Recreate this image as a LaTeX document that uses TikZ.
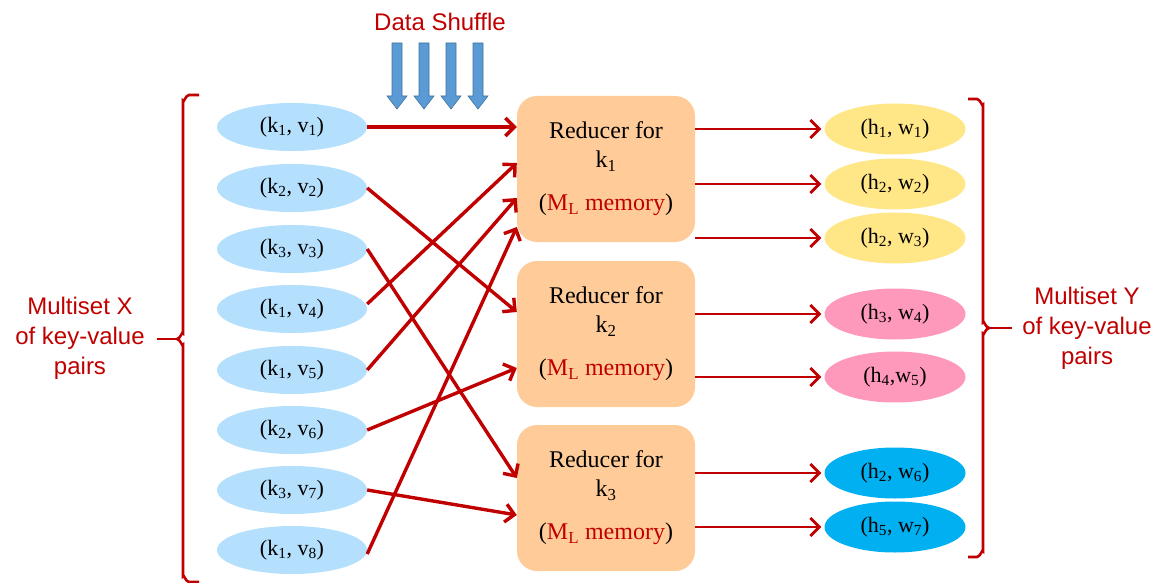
\documentclass[tikz,border=0pt]{standalone}
\usepackage{fontspec}
\setmainfont{Liberation Serif}
\newfontfamily\arialfont{Liberation Sans}
\usetikzlibrary{arrows.meta,calc,shapes.geometric}

\definecolor{arrowred}{RGB}{192,0,0}
\definecolor{inblue}{RGB}{180,223,253}
\definecolor{outyellow}{RGB}{255,230,135}
\definecolor{outpink}{RGB}{255,153,187}
\definecolor{outcyan}{RGB}{0,176,240}
\definecolor{reducerfill}{RGB}{255,204,153}
\definecolor{shuffleblue}{RGB}{91,155,213}
\definecolor{shuffleedge}{RGB}{65,113,156}

\begin{document}
\begin{tikzpicture}[x=1pt,y=-1pt,
  inpair/.style={ellipse, fill=inblue, minimum width=150pt, minimum height=48pt,
    inner sep=0pt, font=\fontsize{22}{26}\selectfont},
  outpair/.style={ellipse, minimum width=141pt, minimum height=51pt,
    inner sep=0pt, font=\fontsize{22}{26}\selectfont},
  reducer/.style={rounded corners=20pt, fill=reducerfill, minimum width=178pt,
    minimum height=146pt, align=center, inner sep=0pt,
    font=\fontsize{24}{29}\selectfont},
  flow/.style={draw=arrowred, line width=3.4pt, -{Straight Barb[length=9pt,width=18pt]}},
  sidetext/.style={text=arrowred, align=center, inner sep=0pt,
    font=\arialfont\fontsize{24}{30}\selectfont},
  bracket/.style={draw=arrowred, line width=2.6pt}
]
\useasboundingbox (0,0) rectangle (1162,583);

% shuffle label and block arrows
\node[sidetext] (shuffle) at (440,22) {Data Shuffle};
\foreach \x in {397,424,451,478}
  \filldraw[fill=shuffleblue, draw=shuffleedge, line width=0.6pt]
    (\x-5,43) -- (\x+5,43) -- (\x+5,96) -- (\x+10,96) -- (\x,109)
    -- (\x-10,96) -- (\x-5,96) -- cycle;

% input pairs
\foreach \n/\k/\v/\y in {a1/1/1/127, a2/2/2/188, a3/3/3/249, a4/1/4/309,
                         a5/1/5/370, a6/2/6/430, a7/3/7/490, a8/1/8/550}
  \node[inpair] (\n) at (292,\y) {(k\textsubscript{\k}, v\textsubscript{\v})};

% reducers
\node[reducer] (r1) at (606,169) {Reducer for\\k\textsubscript{1}\\[14pt]({\color{arrowred}M\textsubscript{L} memory})};
\node[reducer] (r2) at (606,334) {Reducer for\\k\textsubscript{2}\\[14pt]({\color{arrowred}M\textsubscript{L} memory})};
\node[reducer] (r3) at (606,498) {Reducer for\\k\textsubscript{3}\\[14pt]({\color{arrowred}M\textsubscript{L} memory})};

% output pairs
\node[outpair, fill=outyellow] (b1) at (895,129) {(h\textsubscript{1}, w\textsubscript{1})};
\node[outpair, fill=outyellow] (b2) at (895,184) {(h\textsubscript{2}, w\textsubscript{2})};
\node[outpair, fill=outyellow] (b3) at (895,238) {(h\textsubscript{2}, w\textsubscript{3})};
\node[outpair, fill=outpink]   (b4) at (895,314) {(h\textsubscript{3}, w\textsubscript{4})};
\node[outpair, fill=outpink]   (b5) at (895,377) {(h\textsubscript{4},w\textsubscript{5})};
\node[outpair, fill=outcyan]   (b6) at (895,473) {(h\textsubscript{2}, w\textsubscript{6})};
\node[outpair, fill=outcyan]   (b7) at (895,527) {(h\textsubscript{5}, w\textsubscript{7})};

% shuffle connections
\draw[flow] (a1.east) -- (a1.east -| r1.west);
\draw[flow] (a2.east) -- ($(r2.west)+(0,-22)$);
\draw[flow] (a3.east) -- ($(r3.west)+(0,-20)$);
\draw[flow] ([yshift=5pt]a4.east) -- ($(r1.west)+(0,-6)$);
\draw[flow] (a5.east) -- ($(r1.west)+(0,29)$);
\draw[flow] (a6.east) -- ($(r2.west)+(0,34)$);
\draw[flow] (a7.east) -- ($(r3.west)+(0,17)$);
\draw[flow] ([yshift=-4pt]a8.east) -- ($(r1.west)+(0,58)$);

% reducer outputs
\foreach \r/\b in {r1/b1, r1/b2, r1/b3, r2/b4, r2/b5, r3/b6, r3/b7}
  \draw[flow, line width=2.8pt, shorten >=3pt] (\r.east |- \b.west) -- (\b.west);

% left brace and label
\draw[bracket] (199,95) -- (189,95) to[out=180,in=-90] (183,101) -- (183,333)
  to[out=90,in=0] (177,339) to[out=0,in=-90] (183,345) -- (183,576)
  to[out=90,in=180] (189,582) -- (199,582);
\node[sidetext] (setx) at (80,338) {Multiset X\\of key-value\\pairs};
\draw[bracket] (177,339) -- (157,339);

% right brace and label
\draw[bracket] (968,99) -- (977,99) to[out=0,in=-90] (983,105) -- (983,322)
  to[out=90,in=180] (989,328) to[out=180,in=-90] (983,334) -- (983,551)
  to[out=90,in=0] (977,557) -- (968,557);
\node[sidetext] (sety) at (1087,328) {Multiset Y\\of key-value\\pairs};
\draw[bracket] (989,328) -- (1012,328);
\end{tikzpicture}
\end{document}
